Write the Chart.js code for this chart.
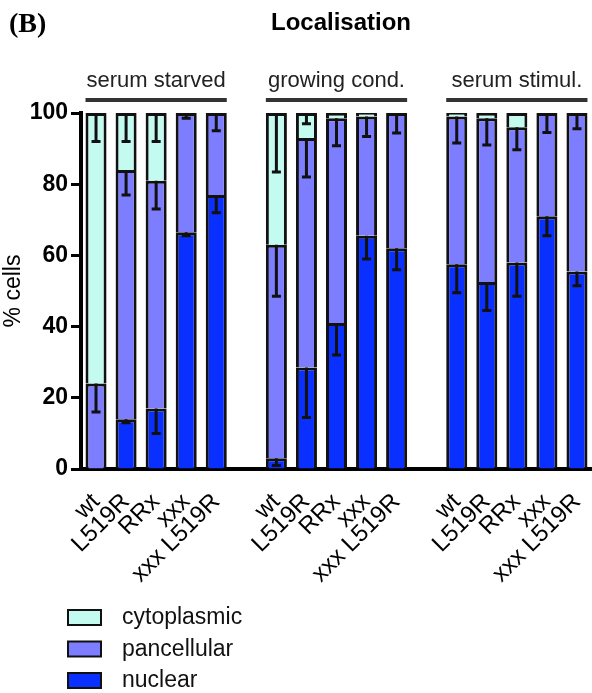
<!DOCTYPE html>
<html>
<head>
<meta charset="utf-8">
<script src="https://cdn.jsdelivr.net/npm/chart.js@4"></script>
<style>
  body { margin: 0; background: #fff; }
</style>
</head>
<body>
<canvas id="locChart" width="592" height="693"></canvas>
<script>
// categories ('' = gap between groups)
const categories = ['wt', 'L519R', 'RRx', 'xxx', 'xxx L519R', '',
                    'wt', 'L519R', 'RRx', 'xxx', 'xxx L519R', '',
                    'wt', 'L519R', 'RRx', 'xxx', 'xxx L519R'];
const groupNames = ['serum starved', 'growing cond.', 'serum stimul.'];
const groupIndex = [[0, 4], [6, 10], [12, 16]];

// % cells per localisation
const nuclear     = [0, 14, 17, 66.5, 77, null, 3, 28.5, 41, 65.5, 62, null, 57.5, 52.5, 58, 71, 55.5];
const pancellular = [24, 70, 64, 33.5, 23, null, 60, 64.5, 57.5, 33.5, 38, null, 41.5, 46, 38, 29, 44.5];
const cytoplasmic = [76, 16, 19, 0, 0, null, 37, 7, 1.5, 1, 0, null, 1, 1.5, 4, 0, 0];

// error bars (drawn downwards from top of each segment)
const nuclearErr     = [0, 1, 7, 1, 5, null, 2, 14, 9, 6.5, 6, null, 8, 8, 9.5, 5.5, 4];
const pancellularErr = [8, 7, 8, 1.5, 5, null, 14.5, 11, 7.7, 5.6, 5.6, null, 7.4, 7.5, 6.3, 5.5, 4.4];
const cytoplasmicErr = [8, 8, 8, 0, 0, null, 16.6, 3, 0, 0, 0, null, 0, 0, 0, 0, 0];

const yTicks = [0, 20, 40, 60, 80, 100];

const FONT = "'Liberation Sans', Arial, sans-serif";
Chart.defaults.font.family = FONT;
Chart.defaults.color = '#000';

const errorBars = {
  id: 'errorBars',
  afterDatasetsDraw(chart) {
    const ctx = chart.ctx;
    const y = chart.scales.y;
    ctx.save();
    ctx.strokeStyle = '#111';
    ctx.lineWidth = 3;
    chart.data.datasets.forEach((ds, i) => {
      const meta = chart.getDatasetMeta(i);
      ds.data.forEach((v, j) => {
        const err = ds.errors[j];
        if (v == null || !err) return;
        let top = 0;
        for (let k = 0; k <= i; k++) top += chart.data.datasets[k].data[j] || 0;
        const x = meta.data[j].x;
        const y1 = y.getPixelForValue(top);
        const y2 = y.getPixelForValue(top - err);
        ctx.beginPath();
        ctx.moveTo(x, y1);
        ctx.lineTo(x, y2);
        ctx.moveTo(x - 4.5, y2);
        ctx.lineTo(x + 4.5, y2);
        ctx.stroke();
      });
    });
    ctx.restore();
  }
};

const extras = {
  id: 'extras',
  afterDraw(chart) {
    const ctx = chart.ctx;
    const meta = chart.getDatasetMeta(0);
    ctx.save();

    // panel letter and title
    ctx.fillStyle = '#000';
    ctx.textAlign = 'left';
    ctx.textBaseline = 'alphabetic';
    ctx.font = "bold 28px 'Liberation Serif', 'Times New Roman', serif";
    ctx.fillText('(B)', 9, 32);
    ctx.textAlign = 'center';
    ctx.font = 'bold 24px ' + FONT;
    ctx.fillText('Localisation', 341, 30);

    // group headers
    ctx.font = '22px ' + FONT;
    ctx.fillStyle = '#222';
    ctx.strokeStyle = '#333';
    ctx.lineWidth = 4;
    groupIndex.forEach(([a, b], g) => {
      const x0 = meta.data[a].x - meta.data[a].width / 2;
      const x1 = meta.data[b].x + meta.data[b].width / 2;
      ctx.beginPath();
      ctx.moveTo(x0, 100);
      ctx.lineTo(x1, 100);
      ctx.stroke();
      ctx.fillText(groupNames[g], (x0 + x1) / 2, 87);
    });

    // legend (top to bottom: cytoplasmic, pancellular, nuclear)
    const items = chart.data.datasets.slice().reverse();
    ctx.textAlign = 'left';
    ctx.textBaseline = 'middle';
    ctx.font = '23px ' + FONT;
    ctx.lineWidth = 2;
    ctx.strokeStyle = '#111';
    items.forEach((ds, k) => {
      const yTop = 610 + k * 31.5;
      ctx.fillStyle = ds.backgroundColor;
      ctx.fillRect(68, yTop, 33, 15);
      ctx.strokeRect(68, yTop, 33, 15);
      ctx.fillStyle = '#111';
      ctx.fillText(ds.label, 122, yTop + 8);
    });
    ctx.restore();
  }
};

new Chart(document.getElementById('locChart'), {
  type: 'bar',
  data: {
    labels: categories,
    datasets: [
      { label: 'nuclear', data: nuclear, errors: nuclearErr, backgroundColor: '#0a30ff' },
      { label: 'pancellular', data: pancellular, errors: pancellularErr, backgroundColor: '#7d7dff' },
      { label: 'cytoplasmic', data: cytoplasmic, errors: cytoplasmicErr, backgroundColor: '#c4fbf1' }
    ].map(d => Object.assign(d, {
      borderColor: '#111',
      borderWidth: 3,
      categoryPercentage: 1,
      barPercentage: 0.7
    }))
  },
  options: {
    responsive: false,
    animation: false,
    layout: { padding: { top: 113, left: 0, right: 0, bottom: 0 } },
    plugins: {
      legend: { display: false },
      tooltip: { enabled: false }
    },
    scales: {
      x: {
        stacked: true,
        offset: true,
        grid: { display: false },
        border: { color: '#000', width: 4 },
        ticks: { autoSkip: false, minRotation: 45, maxRotation: 45, color: '#000', font: { size: 24 }, padding: 11 },
        afterFit: s => { s.height = 224; s.paddingLeft = 0; s.paddingRight = 0; }
      },
      y: {
        stacked: true,
        min: 0,
        max: 100,
        afterBuildTicks: s => { s.ticks = yTicks.map(v => ({ value: v })); },
        ticks: { color: '#000', font: { size: 23, weight: 'bold' }, padding: 3 },
        grid: { drawOnChartArea: false, tickLength: 10, tickWidth: 3, tickColor: '#000' },
        border: { color: '#000', width: 4 },
        title: { display: true, text: '% cells', color: '#000', font: { size: 23 }, padding: 0 },
        afterFit: s => { s.width = 81; }
      }
    }
  },
  plugins: [errorBars, extras]
});
</script>
</body>
</html>
